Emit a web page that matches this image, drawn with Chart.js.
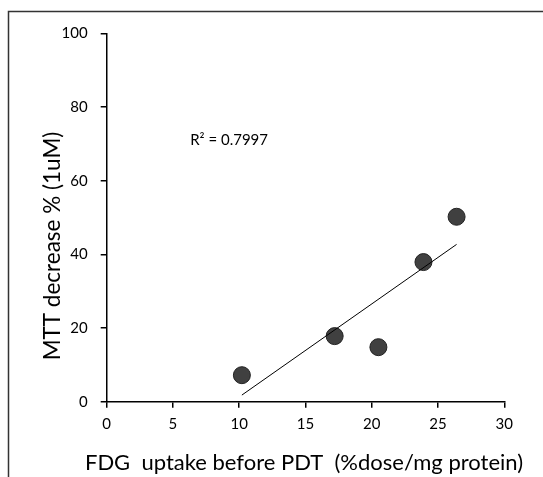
<!DOCTYPE html>
<html>
<head>
<meta charset="utf-8">
<script src="https://cdn.jsdelivr.net/npm/chart.js@4"></script>
<style>
  body { margin: 0; background: #fff; }
</style>
</head>
<body>
<canvas id="chart" width="543" height="477"></canvas>
<script>
// values
const fdgUptake = [10.2, 17.2, 20.5, 23.9, 26.4];
const mttDecrease = [7.2, 17.8, 14.8, 37.9, 50.2];
const trendX = [10.2, 26.4];
const trendY = [1.8, 42.7];
const xTicks = [0, 5, 10, 15, 20, 25, 30];
const yTicks = [0, 20, 40, 60, 80, 100];
const xTitle = 'FDG  uptake before PDT  (%dose/mg protein)';
const yTitle = 'MTT decrease % (1uM)';
const rSquaredLabel = 'R² = 0.7997';

const FONT = 'Lato, "Open Sans", sans-serif';

// frame, axis titles and R² text
const decorations = {
    id: 'decorations',
    beforeDraw(chart) {
        const ctx = chart.ctx;
        ctx.save();
        ctx.strokeStyle = '#333';
        ctx.lineWidth = 1.5;
        ctx.beginPath();
        ctx.moveTo(8.5, 600);
        ctx.lineTo(8.5, 11.5);
        ctx.lineTo(700, 11.5);
        ctx.stroke();
        ctx.restore();
    },
    afterDraw(chart) {
        const ctx = chart.ctx;
        const x = chart.scales.x;
        const y = chart.scales.y;
        ctx.save();
        ctx.fillStyle = '#000';
        ctx.textBaseline = 'alphabetic';

        // x title
        ctx.font = '22px ' + FONT;
        ctx.textAlign = 'center';
        ctx.fillText(xTitle, 304, 470);

        // y title
        ctx.font = '22.5px ' + FONT;
        ctx.translate(60, 246);
        ctx.rotate(-Math.PI / 2);
        ctx.fillText(yTitle, 0, 0);
        ctx.setTransform(1, 0, 0, 1, 0, 0);

        // R² label
        ctx.font = '15px ' + FONT;
        ctx.textAlign = 'left';
        ctx.textBaseline = 'middle';
        ctx.fillText(rSquaredLabel, x.getPixelForValue(6.3), y.getPixelForValue(71));
        ctx.restore();
    }
};

const ctx = document.getElementById('chart').getContext('2d');
new Chart(ctx, {
    type: 'scatter',
    data: {
        datasets: [{
            label: 'Trend',
            type: 'line',
            data: trendX.map((v, i) => ({ x: v, y: trendY[i] })),
            borderColor: '#000',
            borderWidth: 1,
            pointRadius: 0,
            fill: false
        }, {
            label: 'MTT',
            data: fdgUptake.map((v, i) => ({ x: v, y: mttDecrease[i] })),
            backgroundColor: '#404040',
            borderColor: '#222',
            borderWidth: 1,
            pointRadius: 8.5,
            pointHoverRadius: 8.5
        }]
    },
    options: {
        responsive: false,
        animation: false,
        layout: { padding: { left: 0, right: 38.7, top: 33.3, bottom: 0 } },
        plugins: {
            legend: { display: false },
            tooltip: { enabled: false }
        },
        scales: {
            x: {
                type: 'linear',
                min: 0,
                max: 30,
                afterFit: s => { s.height = 75.3; },
                afterBuildTicks: s => { s.ticks = xTicks.map(v => ({ value: v })); },
                grid: { drawOnChartArea: false, color: '#000', tickLength: 6, lineWidth: 1.5 },
                border: { color: '#000', width: 1.5 },
                ticks: { color: '#000', font: { family: FONT, size: 15 }, padding: 7, maxRotation: 0 }
            },
            y: {
                type: 'linear',
                min: 0,
                max: 100,
                afterFit: s => { s.width = 106.7; },
                afterBuildTicks: s => { s.ticks = yTicks.map(v => ({ value: v })); },
                grid: { drawOnChartArea: false, color: '#000', tickLength: 6, lineWidth: 1.5 },
                border: { color: '#000', width: 1.5 },
                ticks: { color: '#000', font: { family: FONT, size: 15 }, padding: 13 }
            }
        }
    },
    plugins: [decorations]
});
</script>
</body>
</html>
